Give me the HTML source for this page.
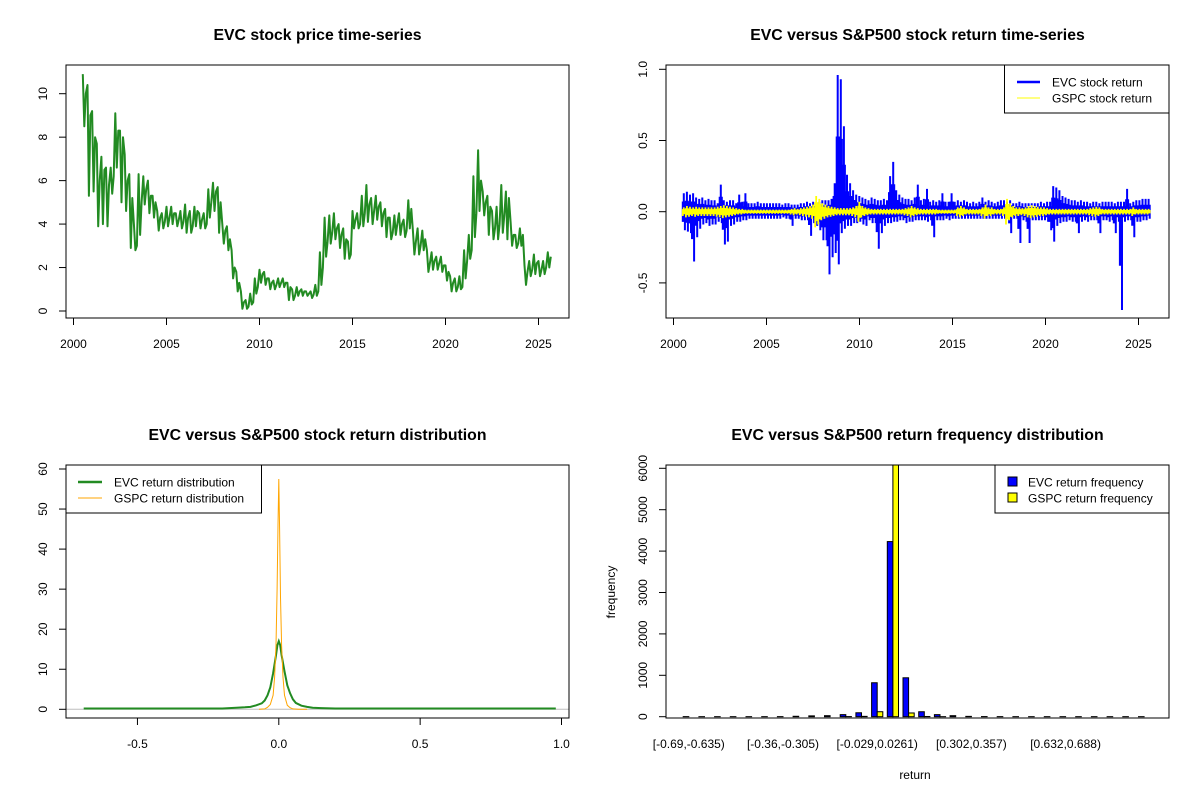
<!DOCTYPE html>
<html><head><meta charset="utf-8"><style>
html,body{margin:0;padding:0;background:#fff;}
svg{display:block;font-family:"Liberation Sans",Arial,sans-serif;}
</style></head><body>
<svg id="c" width="1200" height="800" xmlns="http://www.w3.org/2000/svg"></svg>
<script>
// ---------- data ----------
const priceStart = 2000.5, priceStep = 0.25;
const priceValues = [10.0,9.0,
8.0,6.0,6.5,5.8, 6.2,8.3,8.0,6.0, 5.2,3.0,5.0,5.6, 5.3,5.0,4.3,4.1, 4.3,4.5,4.2,4.1,
4.3,3.9,4.6,4.2, 4.0,5.0,5.5,5.0, 3.7,3.3,2.0,1.3, 0.4,0.2,0.4,1.1, 1.7,1.5,1.3,1.2,
1.3,1.3,1.1,0.7, 0.9,0.9,0.8,0.75, 0.9,2.0,3.2,3.6, 3.8,3.5,3.3,2.6, 4.2,4.0,4.5,4.9,
4.6,4.8,4.5,4.3, 3.6,4.0,4.0,3.7, 4.7,3.2,3.0,3.3, 2.2,2.3,2.2,2.1, 1.8,1.3,1.1,1.1,
2.3,2.8,4.5,6.0, 5.0,4.8,3.8,4.0, 4.4,5.2,3.5,3.1, 3.5,1.8,1.9,2.2, 1.9,2.0,2.5];
const priceHigh = [10.9,10.4,
9.2,7.7,7.1,6.6, 6.6,9.1,8.3,7.2, 6.3,4.0,6.3,6.2, 6.0,5.3,4.6,4.5, 4.8,4.8,4.5,4.6,
4.9,4.6,4.8,4.5, 4.5,5.6,5.9,5.7, 4.0,3.9,2.8,1.8, 0.9,0.5,0.8,1.5, 1.9,1.8,1.5,1.4,
1.5,1.5,1.3,1.0, 1.1,1.0,0.9,0.9, 1.2,2.7,4.3,4.4, 4.5,4.0,3.8,3.2, 4.6,4.5,5.3,5.8,
5.2,5.3,5.0,4.7, 4.3,4.4,4.5,4.2, 5.1,3.7,3.8,3.7, 2.8,2.7,2.5,2.5, 2.1,1.6,1.5,1.6,
2.8,3.5,6.2,7.4, 5.5,5.3,4.6,4.8, 5.8,5.5,4.1,3.5, 3.8,2.1,2.3,2.6, 2.3,2.3,2.7];
const priceLow = [8.5,5.3,
5.5,3.9,4.0,3.9, 5.4,6.6,5.0,4.6, 2.9,2.8,3.5,4.9, 4.5,4.3,3.7,3.8, 3.9,4.0,3.9,3.8,
3.6,3.6,3.9,3.8, 3.8,4.3,4.6,3.6, 3.1,2.8,1.5,0.9, 0.1,0.1,0.3,0.8, 1.3,1.2,1.0,1.0,
1.1,1.1,0.5,0.5, 0.7,0.7,0.7,0.6, 0.7,1.2,2.5,3.1, 3.3,2.9,2.4,2.4, 3.8,3.8,3.9,4.1,
4.0,4.2,3.9,3.4, 3.3,3.5,3.5,3.4, 3.8,2.6,2.6,2.8, 1.8,1.9,1.9,1.8, 1.4,0.9,0.9,1.0,
1.5,2.4,3.4,4.6, 4.4,3.5,3.3,3.3, 3.6,3.3,3.0,2.9, 3.0,1.2,1.6,1.7, 1.6,1.7,2.0];

const retStart = 2000.5, retStep = 0.1655;
const evcRetHigh = [0.13,0.14,0.12,0.13,0.1,0.09,0.1,0.08,0.09,0.08,0.08,0.06,0.19,0.08,0.07,0.08,
0.08,0.06,0.12,0.07,0.13,0.06,0.06,0.06,0.07,0.06,0.06,0.06,
0.06,0.06,0.06,0.06,0.05,0.06,0.06,0.05,0.05,0.05,0.06,0.06,0.07,0.06,0.07,0.06,
0.07,0.08,0.08,0.08,0.09,0.2,0.96,0.93,0.6,0.26,0.2,0.15,0.12,0.11,0.1,0.09,
0.08,0.1,0.09,0.08,0.08,0.09,0.08,0.25,0.35,0.15,0.12,0.1,0.09,0.09,0.08,0.1,
0.19,0.08,0.09,0.16,0.07,0.08,0.07,0.08,0.13,0.07,0.07,0.13,0.07,0.08,0.07,0.08,
0.07,0.06,0.07,0.06,0.07,
0.1,0.07,0.08,0.07,0.06,0.07,0.08,0.08,0.07,0.08,0.06,0.06,0.07,0.06,0.06,0.06,
0.06,0.06,0.06,0.07,0.06,0.07,0.07,0.18,0.17,0.15,0.11,0.1,0.09,0.08,0.08,0.07,
0.08,0.07,0.07,0.06,0.07,0.07,0.06,0.07,0.07,0.07,0.07,0.06,0.07,0.07,0.07,0.16,
0.06,0.07,0.08,0.08,0.09,0.09,0.09];
const evcRetLow = [-0.13,-0.14,-0.15,-0.35,-0.18,-0.12,-0.09,-0.08,-0.1,-0.09,-0.09,-0.07,-0.08,-0.23,-0.21,-0.1,
-0.09,-0.07,-0.07,-0.06,-0.06,-0.05,-0.05,-0.05,-0.05,-0.05,-0.05,-0.05,
-0.05,-0.05,-0.05,-0.05,-0.04,-0.05,-0.05,-0.1,-0.05,-0.05,-0.06,-0.06,-0.06,-0.17,-0.08,-0.1,
-0.13,-0.2,-0.2,-0.44,-0.32,-0.29,-0.37,-0.15,-0.12,-0.1,-0.1,-0.08,-0.08,-0.07,-0.09,-0.1,
-0.06,-0.08,-0.08,-0.26,-0.15,-0.1,-0.08,-0.08,-0.07,-0.07,-0.06,-0.06,-0.08,-0.07,-0.07,-0.06,
-0.06,-0.06,-0.06,-0.07,-0.06,-0.18,-0.06,-0.06,-0.06,-0.05,-0.06,-0.05,-0.05,-0.05,-0.05,-0.05,
-0.05,-0.05,-0.05,-0.05,-0.05,
-0.05,-0.05,-0.05,-0.05,-0.05,-0.05,-0.05,-0.05,-0.05,-0.15,-0.05,-0.05,-0.22,-0.06,-0.07,-0.22,
-0.06,-0.06,-0.06,-0.06,-0.06,-0.07,-0.13,-0.21,-0.1,-0.08,-0.07,-0.07,-0.06,-0.07,-0.07,-0.15,
-0.07,-0.06,-0.07,-0.06,-0.06,-0.06,-0.15,-0.06,-0.06,-0.07,-0.06,-0.15,-0.07,-0.69,-0.07,-0.06,
-0.06,-0.18,-0.07,-0.07,-0.06,-0.06,-0.05];
const gspcRetAmp = [0.03,0.04,0.035,0.03,0.035,0.03,0.03,0.03,0.03,0.03,0.03,0.035,0.04,0.045,0.04,0.035,
0.03,0.025,0.02,0.02,0.015,0.015,0.015,0.015,0.015,0.015,0.015,0.015,
0.015,0.015,0.015,0.015,0.015,0.015,0.015,0.02,0.025,0.02,0.025,0.03,0.035,0.04,0.05,0.11,
0.09,0.06,0.05,0.04,0.035,0.03,0.025,0.025,0.025,0.025,0.025,0.03,0.04,0.07,0.04,0.03,
0.025,0.02,0.02,0.02,0.02,0.02,0.02,0.02,0.02,0.02,0.02,0.02,0.025,0.03,0.04,0.03,
0.025,0.02,0.02,0.02,0.02,0.02,0.02,0.015,0.015,0.015,0.015,0.015,0.015,0.03,0.04,0.03,
0.02,0.02,0.02,0.02,0.02,
0.03,0.05,0.03,0.03,0.02,0.02,0.02,0.03,0.09,0.06,0.04,0.03,0.03,0.025,0.03,0.04,
0.045,0.04,0.035,0.03,0.03,0.025,0.02,0.02,0.02,0.02,0.02,0.02,0.02,0.02,0.02,0.02,
0.02,0.02,0.02,0.025,0.03,0.035,0.03,0.02,0.02,0.02,0.02,0.02,0.02,0.02,0.02,0.02,
0.02,0.03,0.02,0.02,0.02,0.02,0.02];

const evcDensX = [-0.69,-0.2,-0.15,-0.12,-0.1,-0.08,-0.06,-0.05,-0.04,-0.03,-0.02,-0.01,-0.005,0,0.005,0.01,0.02,0.03,0.04,0.05,0.06,0.08,0.1,0.12,0.15,0.2,0.98];
const evcDensY = [0.2,0.2,0.4,0.5,0.6,1.0,1.5,2.2,3.5,5.5,9.0,13.5,16.0,17.0,16.0,13.5,9.5,6.0,4.0,2.5,1.6,0.9,0.6,0.4,0.3,0.2,0.2];
const gspcDensX = [-0.07,-0.05,-0.04,-0.03,-0.02,-0.015,-0.01,-0.006,-0.003,0,0.003,0.006,0.01,0.015,0.02,0.03,0.04,0.05,0.07,0.1];
const gspcDensY = [0,0.1,0.5,1.2,3.5,8.0,16.0,30.0,46.0,57.5,45.0,28.0,16.0,8.0,3.5,1.0,0.4,0.1,0,0];

const binLabels = ["[-0.69,-0.635)","[-0.36,-0.305)","[-0.029,0.0261)","[0.302,0.357)","[0.632,0.688)"];
const evcFreq = [2,1,1,1,1,1,2,10,20,25,50,95,820,4230,940,120,50,25,8,3,2,1,1,1,1,1,1,1,1,1];
const gspcFreq = [0,0,0,0,0,0,0,0,0,0,3,8,120,6300,90,5,1,0,0,0,0,0,0,0,0,0,0,0,0,0];

// ---------- helpers ----------
const svg = document.getElementById('c');
const NS = 'http://www.w3.org/2000/svg';
function mk(tag, attrs, parent){
  const e = document.createElementNS(NS, tag);
  for (const k in attrs) e.setAttribute(k, attrs[k]);
  (parent||svg).appendChild(e);
  return e;
}
function txt(x,y,s,size,anchor,rot,weight,parent){
  const t = mk('text',{x:x,y:y,'font-size':size,'text-anchor':anchor||'middle','fill':'#000'},parent);
  if (weight) t.setAttribute('font-weight',weight);
  if (rot) t.setAttribute('transform','rotate(-90 '+x+' '+y+')');
  t.textContent = s;
  return t;
}
function lin(d0,d1,r0,r1){ return v => r0 + (v-d0)*(r1-r0)/(d1-d0); }
function box(L,T,R,B,name){
  const r = mk('rect',{x:L,y:T,width:R-L,height:B-T,fill:'none',stroke:'#000','stroke-width':1});
  
  
}
function xaxis(vals,labels,sx,B,name){
  const g = mk('g',{});
  
  
  mk('line',{x1:sx(vals[0]),x2:sx(vals[vals.length-1]),y1:B,y2:B,stroke:'#000'},g);
  vals.forEach((v,i)=>{
    mk('line',{x1:sx(v),x2:sx(v),y1:B,y2:B+7,stroke:'#000'},g);
    txt(sx(v),B+30,labels[i],12,'middle',false,null,g);
  });
}
function yaxis(vals,labels,sy,L,name){
  const g = mk('g',{});
  
  
  mk('line',{x1:L,x2:L,y1:sy(vals[0]),y2:sy(vals[vals.length-1]),stroke:'#000'},g);
  vals.forEach((v,i)=>{
    mk('line',{x1:L-7,x2:L,y1:sy(v),y2:sy(v),stroke:'#000'},g);
    txt(L-19,sy(v),labels[i],12,'middle',true,null,g);
  });
}
function title(x,y,s,name){
  const t = txt(x,y,s,15.8,'middle',false,'bold');
  
  
}

// ---------- panel 1: price ----------
{
  const L=66,R=569,T=65,B=318;
  const sx = lin(2000,2025,73.5,538.5), sy = lin(0,10,311,93.7);
  title(317.5,40,'EVC stock price time-series','price-chart-title');
  const g = mk('g',{});
  
  
  let d='';
  priceValues.forEach((v,i)=>{
    const t = priceStart+i*priceStep;
    d += (i?'L':'M')+sx(t).toFixed(1)+' '+sy(priceHigh[i]).toFixed(1)+' L'+sx(t+0.08).toFixed(1)+' '+sy(priceLow[i]).toFixed(1)+' L'+sx(t+0.16).toFixed(1)+' '+sy(v).toFixed(1)+' ';
  });
  mk('path',{d:d,fill:'none',stroke:'#228B22','stroke-width':2,'stroke-linejoin':'round'},g);
  box(L,T,R,B,'price-plot-frame');
  xaxis([2000,2005,2010,2015,2020,2025],['2000','2005','2010','2015','2020','2025'],sx,B,'price-x-axis');
  yaxis([0,2,4,6,8,10],['0','2','4','6','8','10'],sy,L,'price-y-axis');
}

// ---------- panel 2: returns ----------
{
  const L=666,R=1169,T=65,B=318;
  const sx = lin(2000,2025,673.5,1138.5), sy = lin(0,1,211.7,69.3);
  title(917.5,40,'EVC versus S&P500 stock return time-series','returns-chart-title');
  const g = mk('g',{});
  
  
  let d='';
  evcRetHigh.forEach((v,i)=>{
    const t = retStart+i*retStep;
    for (let k=0;k<3;k++){
      const xx = sx(t+k*retStep/3).toFixed(1);
      d += 'M'+xx+' '+sy(v*(k==1?1:0.55)).toFixed(1)+' L'+xx+' '+sy(evcRetLow[i]*(k==2?1:0.55)).toFixed(1)+' ';
    }
  });
  mk('path',{d:d,fill:'none',stroke:'#0000FF','stroke-width':2},g);
  const g2 = mk('g',{});
  
  
  let d2='';
  gspcRetAmp.forEach((v,i)=>{
    const t = retStart+i*retStep;
    for (let k=0;k<3;k++){
      const xx = sx(t+k*retStep/3).toFixed(1);
      d2 += 'M'+xx+' '+sy(v*(k==1?1:0.6)).toFixed(1)+' L'+xx+' '+sy(-v*(k==0?1:0.6)).toFixed(1)+' ';
    }
  });
  mk('path',{d:d2,fill:'none',stroke:'#FFFF00','stroke-width':1.8},g2);
  box(L,T,R,B,'returns-plot-frame');
  xaxis([2000,2005,2010,2015,2020,2025],['2000','2005','2010','2015','2020','2025'],sx,B,'returns-x-axis');
  yaxis([-0.5,0,0.5,1],['-0.5','0.0','0.5','1.0'],sy,L,'returns-y-axis');
  const lg = mk('g',{});
  
  
  mk('rect',{x:1004.5,y:65,width:164.5,height:48,fill:'#fff',stroke:'#000'},lg);
  mk('line',{x1:1017,x2:1040,y1:82,y2:82,stroke:'#0000FF','stroke-width':2.5},lg);
  mk('line',{x1:1017,x2:1040,y1:98,y2:98,stroke:'#FFFF00','stroke-width':1},lg);
  txt(1052,86.5,'EVC stock return',12,'start',false,null,lg);
  txt(1052,102.5,'GSPC stock return',12,'start',false,null,lg);
}

// ---------- panel 3: density ----------
{
  const L=66,R=569,T=465,B=718;
  const sx = lin(0,1,278.8,561.5), sy = lin(0,60,709.3,469);
  title(317.5,440,'EVC versus S&P500 stock return distribution','distribution-chart-title');
  const base = mk('line',{x1:L,x2:R,y1:sy(0),y2:sy(0),stroke:'#bebebe'});
  
  
  let d='';
  evcDensX.forEach((v,i)=>{ d += (i?'L':'M')+sx(v).toFixed(1)+' '+sy(evcDensY[i]).toFixed(1)+' '; });
  const p1 = mk('path',{d:d,fill:'none',stroke:'#228B22','stroke-width':2});
  
  
  let d2='';
  gspcDensX.forEach((v,i)=>{ d2 += (i?'L':'M')+sx(v).toFixed(1)+' '+sy(gspcDensY[i]).toFixed(1)+' '; });
  const p2 = mk('path',{d:d2,fill:'none',stroke:'#FFA500','stroke-width':1});
  
  
  box(L,T,R,B,'distribution-plot-frame');
  xaxis([-0.5,0,0.5,1],['-0.5','0.0','0.5','1.0'],sx,B,'distribution-x-axis');
  yaxis([0,10,20,30,40,50,60],['0','10','20','30','40','50','60'],sy,L,'distribution-y-axis');
  const lg = mk('g',{});
  
  
  mk('rect',{x:66,y:465,width:195.5,height:48,fill:'#fff',stroke:'#000'},lg);
  mk('line',{x1:78,x2:102,y1:482,y2:482,stroke:'#228B22','stroke-width':2.5},lg);
  mk('line',{x1:78,x2:102,y1:498,y2:498,stroke:'#FFA500','stroke-width':1},lg);
  txt(114,486.5,'EVC return distribution',12,'start',false,null,lg);
  txt(114,502.5,'GSPC return distribution',12,'start',false,null,lg);
}

// ---------- panel 4: frequency bars ----------
{
  const L=666,R=1169,T=465,B=718;
  const sy = lin(0,6000,716.7,468.3);
  const gx = i => 688.8 + i*15.7;
  const bw = 5.6;
  title(917.5,440,'EVC versus S&P500 return frequency distribution','frequency-chart-title');
  const g = mk('g',{});
  
  
  evcFreq.forEach((v,i)=>{
    const y = Math.max(sy(v), T);
    const r = mk('rect',{x:gx(i)-bw,y:y,width:bw,height:sy(0)-y,fill:'#0000FF',stroke:'#000','stroke-width':1},g);
    
    
  });
  gspcFreq.forEach((v,i)=>{
    const y = Math.max(sy(v), T);
    const r = mk('rect',{x:gx(i),y:y,width:bw,height:sy(0)-y,fill:'#FFFF00',stroke:'#000','stroke-width':1},g);
    
    
  });
  box(L,T,R,B,'frequency-plot-frame');
  yaxis([0,1000,2000,3000,4000,5000,6000],['0','1000','2000','3000','4000','5000','6000'],sy,L,'frequency-y-axis');
  const xl = mk('g',{});
  
  
  binLabels.forEach((s,k)=>{ txt(gx(k*6),B+30,s,12,'middle',false,null,xl); });
  const xt = txt(915,779,'return',12,'middle');
  
  
  const yt = txt(615,592,'frequency',12,'middle',true);
  
  
  const lg = mk('g',{});
  
  
  mk('rect',{x:995,y:465,width:174,height:48,fill:'#fff',stroke:'#000'},lg);
  mk('rect',{x:1008,y:477,width:9,height:9,fill:'#0000FF',stroke:'#000'},lg);
  mk('rect',{x:1008,y:493,width:9,height:9,fill:'#FFFF00',stroke:'#000'},lg);
  txt(1028,486.5,'EVC return frequency',12,'start',false,null,lg);
  txt(1028,502.5,'GSPC return frequency',12,'start',false,null,lg);
}
</script>
</body></html>
